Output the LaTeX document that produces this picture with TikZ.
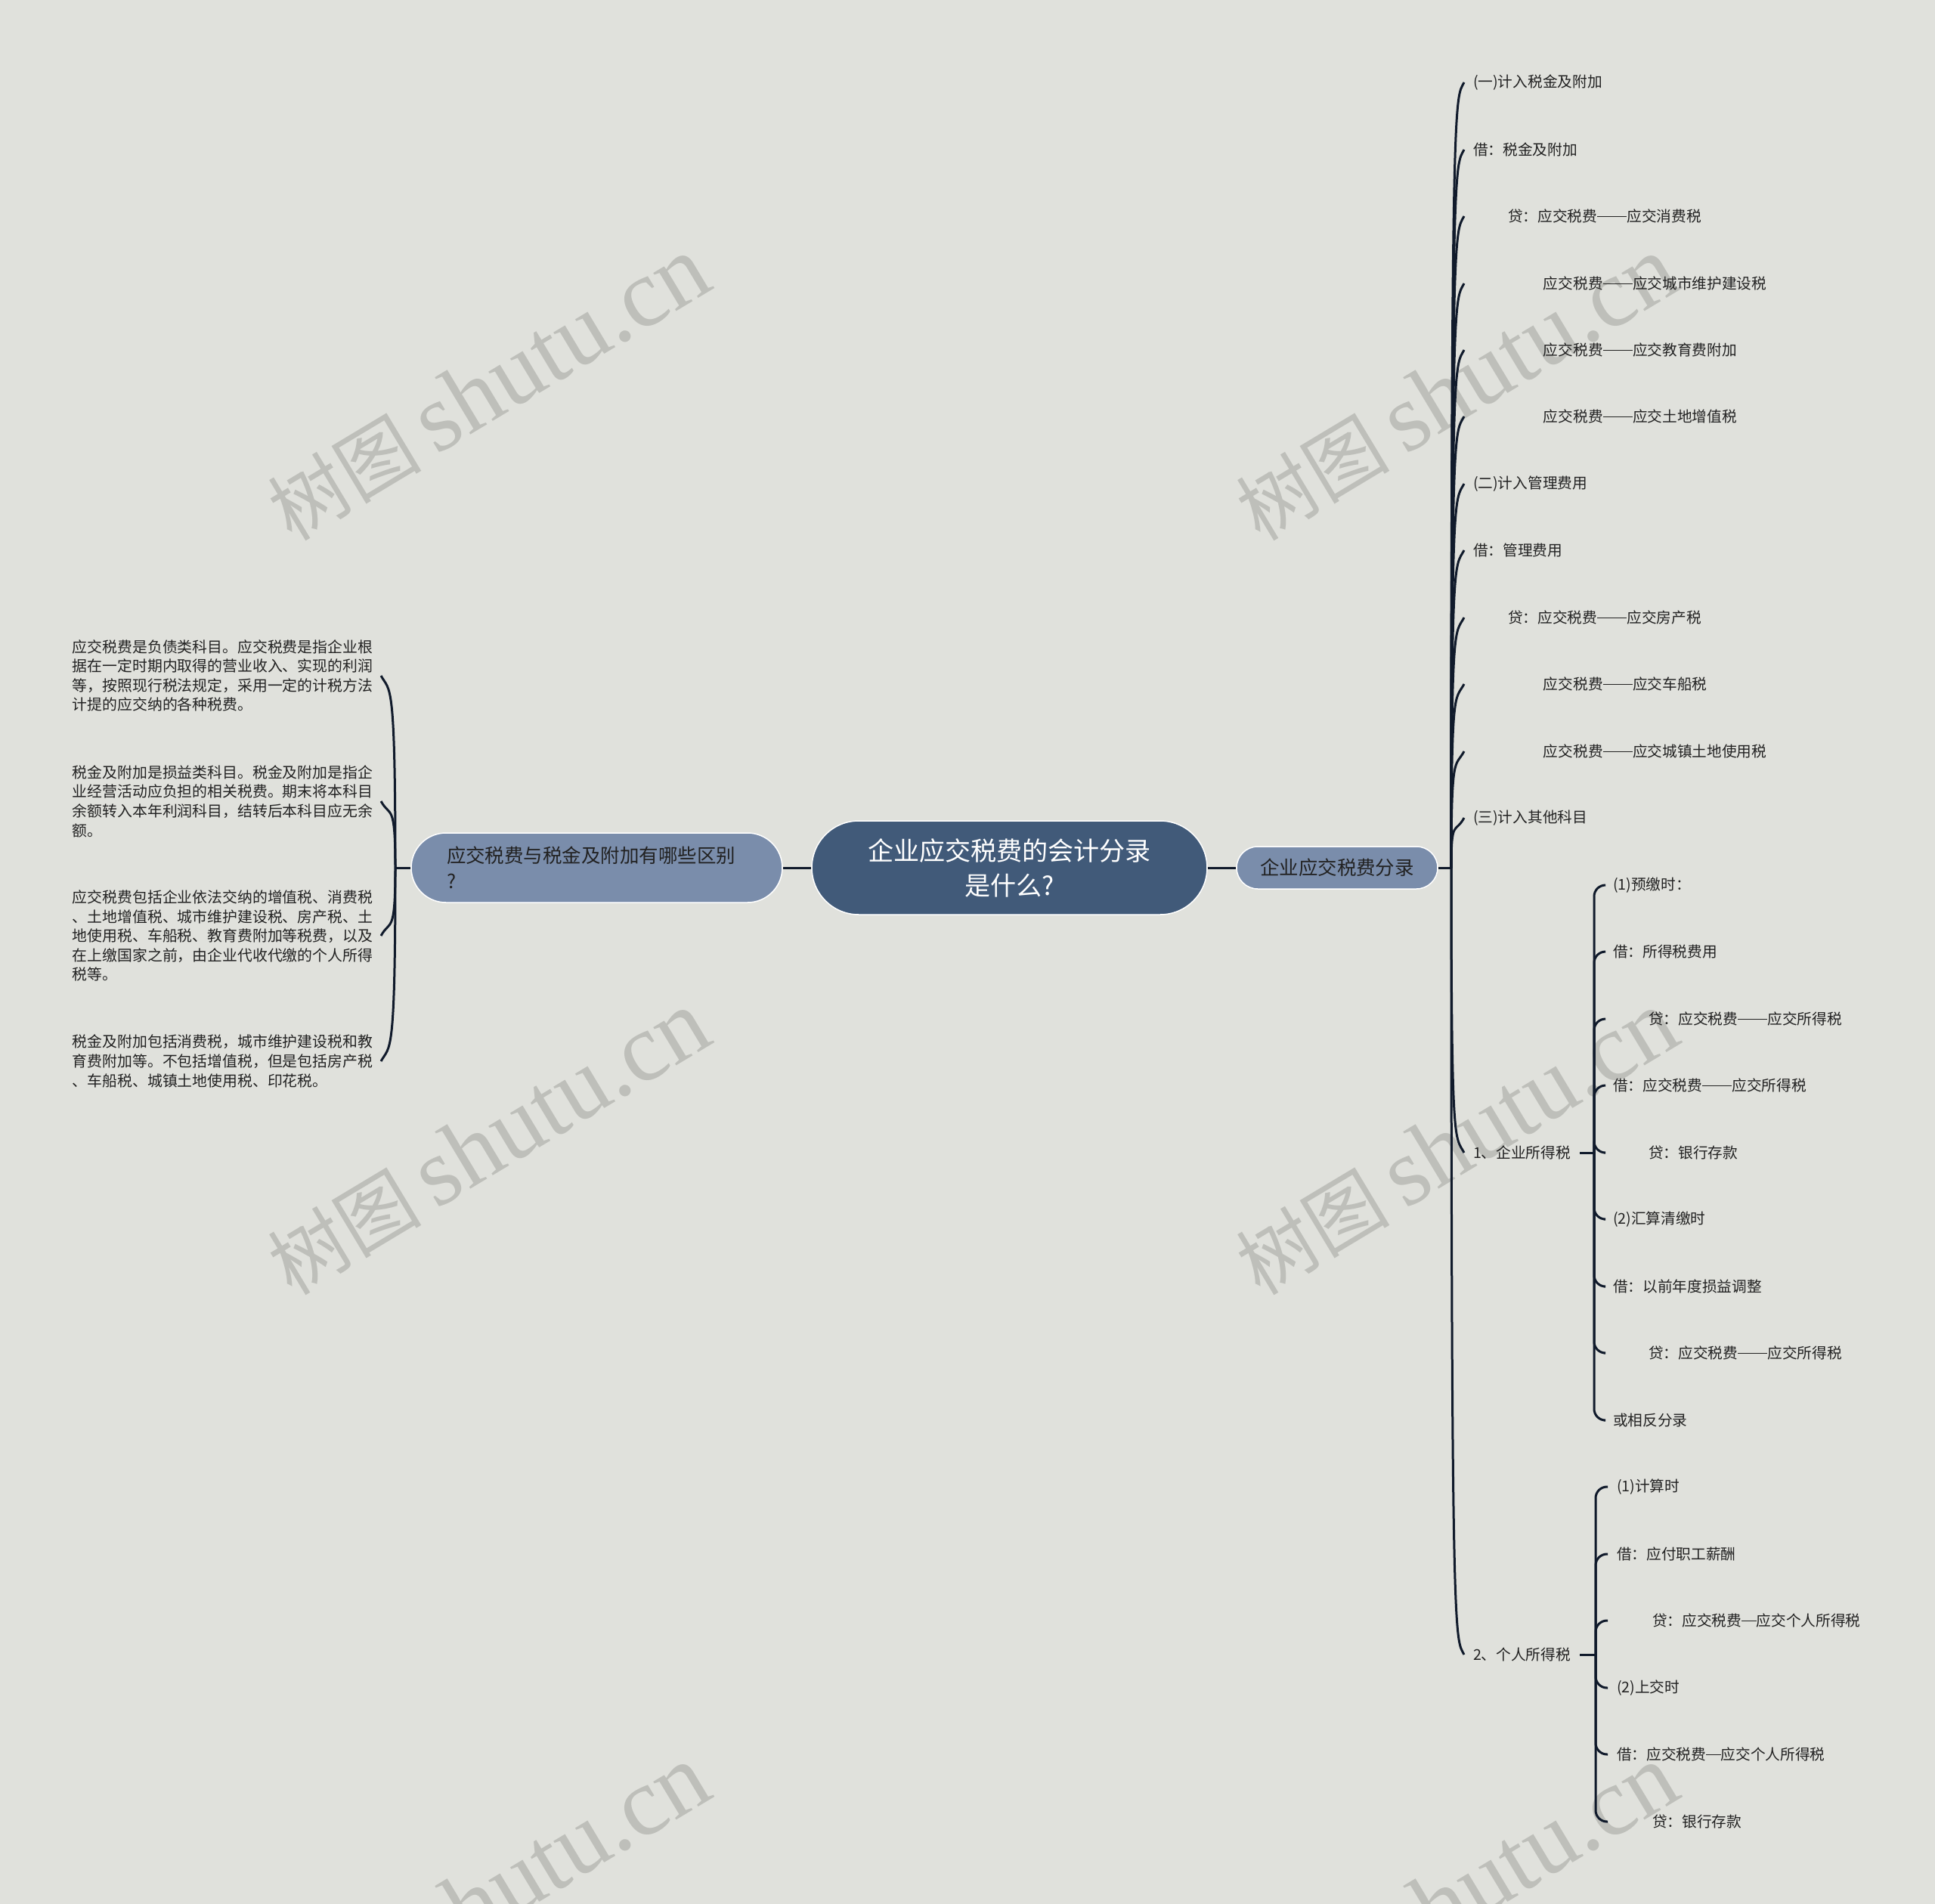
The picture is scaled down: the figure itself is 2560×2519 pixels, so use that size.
\documentclass[tikz,border=0pt]{standalone}
\usepackage{fontspec}
\setmainfont{Noto Sans CJK SC}
\newfontfamily\wmlatin{Liberation Serif}
\newfontfamily\wmcjk{Noto Sans CJK SC}
\usetikzlibrary{calc}
\definecolor{bgc}{RGB}{224,225,220}
\definecolor{rootc}{RGB}{65,90,121}
\definecolor{topicc}{RGB}{122,141,171}
\definecolor{linkc}{RGB}{16,26,43}
\definecolor{textc}{RGB}{34,34,34}
\definecolor{wmc}{RGB}{190,191,186}
\newcommand\cjkdash[1]{\rule[0.34em]{#1em}{0.05em}}

\begin{document}
\begin{tikzpicture}[x=0.02cm, y=-0.02cm,
 root/.style={fill=rootc,draw=white,line width=0.03cm,rounded corners=1.24cm,minimum width=10.46cm,minimum height=2.48cm,align=center,text=white,font=\fontsize{19.4}{26.2}\selectfont},
 topic/.style={fill=topicc,draw=white,line width=0.03cm,text=textc,font=\fontsize{14.5}{19.4}\selectfont},
 leaf/.style={anchor=west,inner sep=0pt,outer sep=0.24cm,text=textc,font=\fontsize{11.2}{14.6}\selectfont},
 note/.style={anchor=west,inner sep=0pt,outer sep=0.22cm,align=left,text=textc,font=\fontsize{11.3}{14.57}\selectfont},
 link/.style={draw=linkc,line width=0.06cm},
 wmark/.style={rotate=31,text=wmc,inner sep=0pt}]
\useasboundingbox (0,0) rectangle (2560,2519);
\clip (0,0) rectangle (2560,2519);
\fill[bgc] (0,0) rectangle (2560,2519);

% watermarks
\foreach \wx in {646,1927}
 \foreach \wy in {514,1512,2510}
  \node[wmark] (wm-\wx-\wy) at (\wx,\wy) {{\wmcjk\fontsize{58}{62}\selectfont 树图}\hspace{0.4cm}{\wmlatin\fontsize{73}{76}\selectfont shutu.cn}};

% centre and main topics
\node[root] (root) at (1335.5,1148) {企业应交税费的会计分录\\是什么?};
\node[topic,minimum width=5.32cm,minimum height=1.12cm,rounded corners=0.56cm] (entry) at (1769,1148) {企业应交税费分录};
\node[topic,minimum width=9.82cm,minimum height=1.84cm,rounded corners=0.92cm,text width=7.94cm,align=left] (diff) at (789.5,1148) {应交税费与税金及附加有哪些区别\\?};
\draw[link] (root.east) -- (entry.west);
\draw[link] (root.west) -- (diff.east);

% right side
\node[leaf] (r1) at (1937,109) {(一)计入税金及附加};
\node[leaf] (r2) at (1937,198) {借：税金及附加};
\node[leaf] (r3) at (1937,286) {\hspace*{0.92cm}贷：应交税费\cjkdash{2}应交消费税};
\node[leaf] (r4) at (1937,375) {\hspace*{1.86cm}应交税费\cjkdash{2}应交城市维护建设税};
\node[leaf] (r5) at (1937,463) {\hspace*{1.86cm}应交税费\cjkdash{2}应交教育费附加};
\node[leaf] (r6) at (1937,551) {\hspace*{1.86cm}应交税费\cjkdash{2}应交土地增值税};
\node[leaf] (r7) at (1937,640) {(二)计入管理费用};
\node[leaf] (r8) at (1937,728) {借：管理费用};
\node[leaf] (r9) at (1937,817) {\hspace*{0.92cm}贷：应交税费\cjkdash{2}应交房产税};
\node[leaf] (r10) at (1937,905) {\hspace*{1.86cm}应交税费\cjkdash{2}应交车船税};
\node[leaf] (r11) at (1937,994) {\hspace*{1.86cm}应交税费\cjkdash{2}应交城镇土地使用税};
\node[leaf] (r12) at (1937,1082) {(三)计入其他科目};
\node[leaf] (e1) at (1937,1525) {1、企业所得税};
\node[leaf] (e2) at (1937,2189) {2、个人所得税};

\coordinate (jr) at (1920,1148);
\draw[link] (entry.east) -- (jr);
\foreach \n in {r1,r2,r3,r4,r5,r6,r7,r8,r9,r10,r11,r12}
 \draw[link] (jr) .. controls (jr |- \n.west) and ($(\n.west)+(-12,22)$) .. (\n.west);
\foreach \n in {e1,e2}
 \draw[link] (jr) .. controls (jr |- \n.west) and ($(\n.west)+(-12,-22)$) .. (\n.west);

% enterprise income tax
\node[leaf] (a1) at (2122,1171) {(1)预缴时：};
\node[leaf] (a2) at (2122,1259) {借：所得税费用};
\node[leaf] (a3) at (2122,1348) {\hspace*{0.94cm}贷：应交税费\cjkdash{2}应交所得税};
\node[leaf] (a4) at (2122,1436) {借：应交税费\cjkdash{2}应交所得税};
\node[leaf] (a5) at (2122,1525) {\hspace*{0.94cm}贷：银行存款};
\node[leaf] (a6) at (2122,1613) {(2)汇算清缴时};
\node[leaf] (a7) at (2122,1702) {借：以前年度损益调整};
\node[leaf] (a8) at (2122,1790) {\hspace*{0.94cm}贷：应交税费\cjkdash{2}应交所得税};
\node[leaf] (a9) at (2122,1879) {或相反分录};
\draw[link] (e1.east) -- ++(19,0) coordinate (b1);
\foreach \n in {a1,a2,a3,a4,a5,a6,a7,a8,a9}
 \draw[link,rounded corners=0.3cm] (b1) |- (\n.west);

% personal income tax
\node[leaf] (i1) at (2127,1967) {(1)计算时};
\node[leaf] (i2) at (2127,2056) {借：应付职工薪酬};
\node[leaf] (i3) at (2127,2144) {\hspace*{0.94cm}贷：应交税费\cjkdash{1}应交个人所得税};
\node[leaf] (i4) at (2127,2233) {(2)上交时};
\node[leaf] (i5) at (2127,2321) {借：应交税费\cjkdash{1}应交个人所得税};
\node[leaf] (i6) at (2127,2410) {\hspace*{0.94cm}贷：银行存款};
\draw[link] (e2.east) -- ++(21,0) coordinate (b2);
\foreach \n in {i1,i2,i3,i4,i5,i6}
 \draw[link,rounded corners=0.3cm] (b2) |- (\n.west);

% left side
\node[note] (p1) at (85,894) {应交税费是负债类科目。应交税费是指企业根\\据在一定时期内取得的营业收入、实现的利润\\等，按照现行税法规定，采用一定的计税方法\\计提的应交纳的各种税费。};
\node[note] (p2) at (85,1060) {税金及附加是损益类科目。税金及附加是指企\\业经营活动应负担的相关税费。期末将本科目\\余额转入本年利润科目，结转后本科目应无余\\额。};
\node[note] (p3) at (85,1238) {应交税费包括企业依法交纳的增值税、消费税\\、土地增值税、城市维护建设税、房产税、土\\地使用税、车船税、教育费附加等税费，以及\\在上缴国家之前，由企业代收代缴的个人所得\\税等。};
\node[note] (p4) at (85,1404) {税金及附加包括消费税，城市维护建设税和教\\育费附加等。不包括增值税，但是包括房产税\\、车船税、城镇土地使用税、印花税。};

\coordinate (jl) at (523,1148);
\draw[link] (diff.west) -- (jl);
\foreach \n in {p1,p2}
 \draw[link] (jl) .. controls (jl |- \n.east) and ($(\n.east)+(12,22)$) .. (\n.east);
\foreach \n in {p3,p4}
 \draw[link] (jl) .. controls (jl |- \n.east) and ($(\n.east)+(12,-22)$) .. (\n.east);
\end{tikzpicture}
\end{document}
